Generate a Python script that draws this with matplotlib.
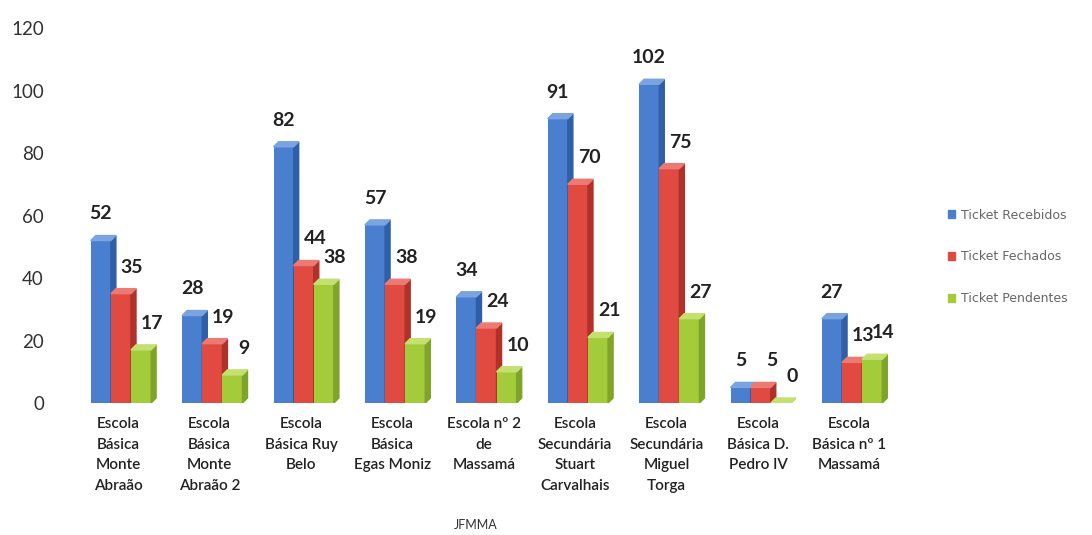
import numpy as np
import matplotlib
matplotlib.use('Agg')
import matplotlib.pyplot as plt
from matplotlib.patches import Polygon, Patch


escolas = ['Escola\nBásica\nMonte\nAbraão', 'Escola\nBásica\nMonte\nAbraão 2',
           'Escola\nBásica Ruy\nBelo', 'Escola\nBásica\nEgas Moniz',
           'Escola nº 2\nde\nMassamá', 'Escola\nSecundária\nStuart\nCarvalhais',
           'Escola\nSecundária\nMiguel\nTorga', 'Escola\nBásica D.\nPedro IV',
           'Escola\nBásica nº 1\nMassamá']
recebidos = [52, 28, 82, 57, 34, 91, 102, 5, 27]
fechados = [35, 19, 44, 38, 24, 70, 75, 5, 13]
pendentes = [17, 9, 38, 19, 10, 21, 27, 0, 14]
series = ['Ticket Recebidos', 'Ticket Fechados', 'Ticket Pendentes']

cores = ['#4a7fd0', '#e04a40', '#a4cc3a']
lados = ['#2f5fa8', '#b0302a', '#7ea42a']
topos = ['#7aa3e0', '#ec7a72', '#c4e070']

plt.rcParams['font.family'] = ['Lato', 'DejaVu Sans']

fig = plt.figure(figsize=(10.92, 5.35), dpi=100)
ax = fig.add_axes([0.058, 0.2467, 0.77, 0.7009])

x = np.arange(len(escolas))
w = 0.22
dx, dy = 0.055, 1.6

for i, vals in enumerate([recebidos, fechados, pendentes]):
    xs = x + (i - 1) * w + 0.03
    ax.bar(xs, vals, w, color=cores[i], zorder=3 + i)
    for xi, v in zip(xs, vals):
        r = xi + w / 2
        l = xi - w / 2
        # faux 3D side and top
        ax.add_patch(Polygon([(r, 0), (r + dx, dy), (r + dx, v + dy), (r, v)],
                             closed=True, color=lados[i], zorder=3 + i))
        ax.add_patch(Polygon([(l, v), (l + dx, v + dy), (r + dx, v + dy), (r, v)],
                             closed=True, color=topos[i], zorder=3 + i))
        off = 0 if i == 0 else 8
        ax.annotate(str(v), (xi, v), xytext=(off, 13), textcoords='offset points',
                    ha='center', va='bottom', fontsize=14, fontweight='bold',
                    color='#222222', zorder=10)

ax.set_xlim(-0.6, 8.6)
ax.set_ylim(0, 120)
ax.set_yticks(np.arange(0, 121, 20))
ax.tick_params(axis='y', length=0, pad=14, labelsize=13.5, labelcolor='#333333')
ax.set_xticks(x)
ax.set_xticklabels(escolas, fontsize=11, fontweight='semibold', color='#222222',
                   linespacing=1.6)
ax.tick_params(axis='x', length=0, pad=10)
for s in ax.spines.values():
    s.set_visible(False)

ax.set_xlabel('JFMMA', fontsize=9, color='#333333', labelpad=18)
ax.xaxis.set_label_coords(0.49, -0.31)

handles = [Patch(color=c, label=s) for c, s in zip(cores, series)]
fig.legend(handles=handles, loc='upper left', bbox_to_anchor=(0.858, 0.631),
           frameon=False, prop={'family': 'DejaVu Sans', 'size': 9},
           handlelength=0.55, handleheight=0.55,
           handletextpad=0.5, labelspacing=2.3, labelcolor='#666666')

fig.savefig('out.png', dpi=100)
